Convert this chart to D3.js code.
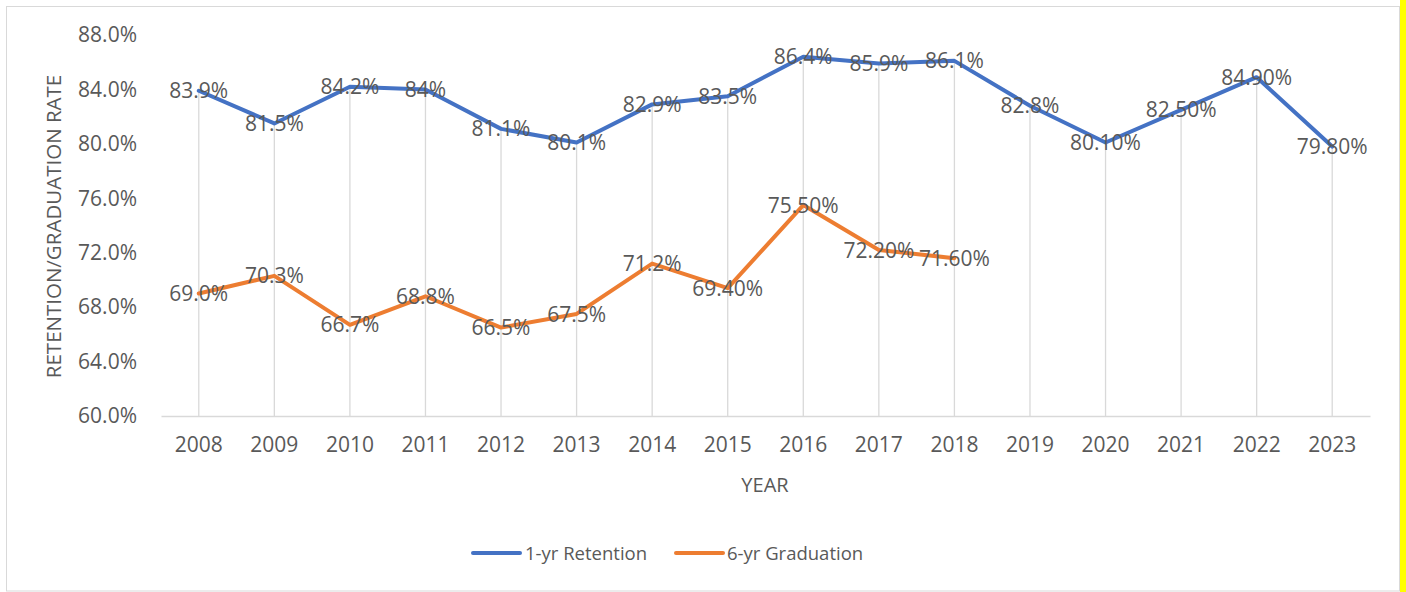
<!DOCTYPE html>
<html><head><meta charset="utf-8">
<script src="https://cdn.jsdelivr.net/npm/d3@7"></script>
<style>html,body{margin:0;padding:0;background:#fff;}svg{display:block;font-family:"Open Sans",sans-serif;}</style>
</head><body><svg id="c" width="1406" height="592"></svg>
<script>
const years = ["2008","2009","2010","2011","2012","2013","2014","2015","2016","2017","2018","2019","2020","2021","2022","2023"];
const retention = [83.9,81.5,84.2,84,81.1,80.1,82.9,83.5,86.4,85.9,86.1,82.8,80.1,82.5,84.9,79.8];
const retentionLabels = ["83.9%","81.5%","84.2%","84%","81.1%","80.1%","82.9%","83.5%","86.4%","85.9%","86.1%","82.8%","80.10%","82.50%","84.90%","79.80%"];
const graduation = [69.0,70.3,66.7,68.8,66.5,67.5,71.2,69.4,75.5,72.2,71.6];
const graduationLabels = ["69.0%","70.3%","66.7%","68.8%","66.5%","67.5%","71.2%","69.40%","75.50%","72.20%","71.60%"];
const yTicks = [60,64,68,72,76,80,84,88];
const seriesNames = ["1-yr Retention","6-yr Graduation"];
const colors = ["#4472C4","#ED7D31"];

const svg = d3.select("#c");
// frame
svg.append("rect").attr("x",1400).attr("y",0).attr("width",6).attr("height",592).attr("fill","#FFFF00");
svg.append("rect").attr("x",6.5).attr("y",6.5).attr("width",1393).attr("height",584.5).attr("fill","#fff").attr("stroke","#d9d9d9").attr("stroke-width",1);

const pLeft=161, pRight=1370, pTop=35, pBottom=416;
const x = d3.scaleBand().domain(years).range([pLeft,pRight]);
const y = d3.scaleLinear().domain([60,88]).range([pBottom,pTop]);
const cx = d => x(d)+x.bandwidth()/2;
const txt = "#595959";

// drop lines
years.forEach((yr,i)=>{
  const vals=[retention[i],graduation[i]].filter(v=>v!==undefined);
  const m=d3.max(vals);
  svg.append("line").attr("x1",cx(yr)).attr("x2",cx(yr)).attr("y1",pBottom).attr("y2",y(m))
    .attr("stroke","#d9d9d9").attr("stroke-width",1.3);
});

// x axis
const xa = svg.append("g").attr("transform",`translate(0,${pBottom})`).call(d3.axisBottom(x).tickSize(0).tickPadding(21));
xa.select(".domain").attr("stroke","#d9d9d9").attr("stroke-width",1.5);
xa.selectAll("text").attr("fill",txt).style("font-size","21px").style("font-family","Open Sans");

// y axis
const ya = svg.append("g").attr("transform",`translate(${pLeft},0)`).call(d3.axisLeft(y).tickValues(yTicks).tickSize(0).tickPadding(24).tickFormat(d=>d.toFixed(1)+"%"));
ya.select(".domain").remove();
ya.selectAll("text").attr("fill",txt).style("font-size","21px").style("font-family","Open Sans");

// titles
svg.append("text").attr("x",765).attr("y",492).attr("text-anchor","middle").attr("fill",txt).style("font-size","20px").text("YEAR");
svg.append("text").attr("transform",`translate(61,${(pTop+pBottom)/2+1}) rotate(-90)`).attr("text-anchor","middle").attr("fill",txt).style("font-size","20.5px").text("RETENTION/GRADUATION RATE");

// lines
const line = d3.line().x((d,i)=>cx(years[i])).y(d=>y(d));
[retention,graduation].forEach((s,k)=>{
  svg.append("path").datum(s).attr("d",line).attr("fill","none").attr("stroke",colors[k]).attr("stroke-width",4).attr("stroke-linejoin","round").attr("stroke-linecap","round");
});
// labels
[[retention,retentionLabels],[graduation,graduationLabels]].forEach(([s,l])=>{
  svg.append("g").selectAll("text").data(s).join("text")
    .attr("x",(d,i)=>cx(years[i])).attr("y",d=>y(d)).attr("dy","0.36em")
    .attr("text-anchor","middle").attr("fill",txt).style("font-size","21px").text((d,i)=>l[i]);
});

// legend
const lg = [[473,525],[676,727]];
seriesNames.forEach((n,k)=>{
  svg.append("line").attr("x1",lg[k][0]).attr("x2",lg[k][0]+47).attr("y1",553).attr("y2",553).attr("stroke",colors[k]).attr("stroke-width",4).attr("stroke-linecap","round");
  svg.append("text").attr("x",lg[k][1]).attr("y",553).attr("dy","0.36em").attr("fill",txt).style("font-size","18.5px").text(n);
});
</script></body></html>
